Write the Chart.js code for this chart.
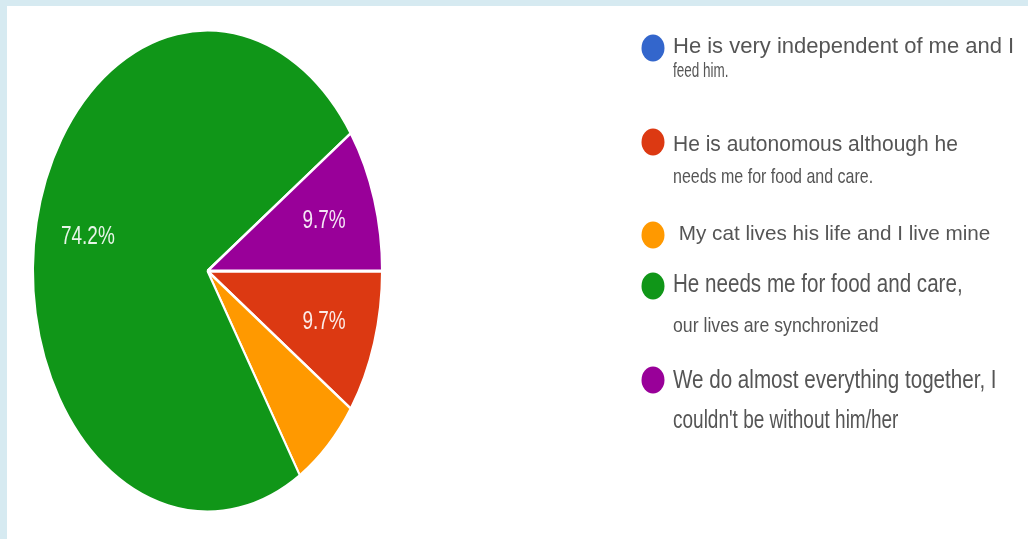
<!DOCTYPE html>
<html>
<head>
<meta charset="utf-8">
<title>How do you live with your cat?</title>
<script src="https://cdn.jsdelivr.net/npm/chart.js@4.4.1/dist/chart.umd.min.js"></script>
<style>
  html, body { margin: 0; padding: 0; background: #fff; }
  #wrap { position: relative; width: 1028px; height: 539px; overflow: hidden; background: #fff; }
  #wrap canvas { position: absolute; left: 0; top: 0; }
  .band { position: absolute; background: #d6eaf1; }
</style>
</head>
<body>
<div id="wrap">
  <canvas id="cat_pie" width="1028" height="539"></canvas>
  <div class="band" style="left:0;top:0;width:1028px;height:6px"></div>
  <div class="band" style="left:0;top:0;width:7px;height:539px"></div>
</div>

<script>
// survey answers (legend text, one entry per line) and number of responses
var answers = [
    ['He is very independent of me and I', 'feed him.'],
    ['He is autonomous although he', 'needs me for food and care.'],
    [' My cat lives his life and I live mine'],
    ['He needs me for food and care,', 'our lives are synchronized'],
    ['We do almost everything together, I', "couldn't be without him/her"]
];
var responses = [0, 3, 2, 23, 3];
var sliceColors = ['#3366cc', '#dc3912', '#ff9900', '#109618', '#990099'];

// pie is drawn squashed into an ellipse
var pieStretch = 1.38;

// legend layout: dot centre y per row, and [baseline, font px, vertical stretch] per text line
var legendDotX = 653;
var legendTextX = 673;
var legendDotY = [48, 142, 235, 286, 380];
var legendLines = [
    [[53, 22, 1.0], [77, 13.5, 1.45]],
    [[151, 21, 1.07], [183, 16, 1.3]],
    [[240, 20.7, 1.0]],
    [[292, 20.6, 1.27], [332, 17.7, 1.17]],
    [[388, 20.6, 1.22], [428, 19, 1.36]]
];

var FONT = '"Liberation Sans", Arial, Helvetica, sans-serif';

var pieExtras = {
    id: 'pieExtras',
    beforeDatasetsDraw: function(chart) {
        var arc = chart.getDatasetMeta(0).data[0];
        var ctx = chart.ctx;
        ctx.save();
        ctx.translate(arc.x, arc.y);
        ctx.scale(1, pieStretch);
        ctx.translate(-arc.x, -arc.y);
    },
    afterDatasetsDraw: function(chart) {
        var ctx = chart.ctx;
        ctx.restore();

        // percentage labels inside the bigger slices
        var values = chart.data.datasets[0].data;
        var total = values.reduce(function(a, b){ return a + b; }, 0);
        chart.getDatasetMeta(0).data.forEach(function(arc, i) {
            var pct = values[i] / total * 100;
            if (pct < 7) return;
            var mid = (arc.startAngle + arc.endAngle) / 2;
            var r = arc.outerRadius * 0.7;
            var x = arc.x + Math.cos(mid) * r;
            var y = arc.y + Math.sin(mid) * r * pieStretch;
            ctx.save();
            ctx.translate(x, y);
            ctx.scale(1, pieStretch);
            ctx.font = '19px ' + FONT;
            ctx.fillStyle = 'rgba(255,255,255,0.9)';
            ctx.textAlign = 'center';
            ctx.textBaseline = 'middle';
            ctx.fillText(pct.toFixed(1) + '%', 0, 0);
            ctx.restore();
        });
    },
    afterDraw: function(chart) {
        var ctx = chart.ctx;
        var colors = chart.data.datasets[0].backgroundColor;
        chart.data.labels.forEach(function(lines, i) {
            ctx.save();
            ctx.beginPath();
            ctx.ellipse(legendDotX, legendDotY[i], 11.5, 13.5, 0, 0, Math.PI * 2);
            ctx.fillStyle = colors[i];
            ctx.fill();
            ctx.restore();

            lines.forEach(function(text, j) {
                var spec = legendLines[i][j];
                ctx.save();
                ctx.translate(legendTextX, spec[0]);
                ctx.scale(1, spec[2]);
                ctx.font = spec[1] + 'px ' + FONT;
                ctx.fillStyle = '#555555';
                ctx.textAlign = 'left';
                ctx.textBaseline = 'alphabetic';
                ctx.fillText(text, 0, 0);
                ctx.restore();
            });
        });
    }
};

var cat_chart = new Chart(document.getElementById('cat_pie'), {
    type: 'pie',
    data: {
        labels: answers,
        datasets: [{
            data: responses,
            backgroundColor: sliceColors,
            borderColor: '#ffffff',
            borderWidth: 2
        }]
    },
    options: {
        responsive: false,
        animation: false,
        events: [],
        rotation: 90,
        layout: {
            // chart area is a square box around the pie centre (207.5, 271)
            padding: { left: 32, right: 645, top: 95.5, bottom: 92.5 }
        },
        plugins: {
            legend: { display: false },
            tooltip: { enabled: false }
        }
    },
    plugins: [pieExtras]
});
</script>
</body>
</html>
